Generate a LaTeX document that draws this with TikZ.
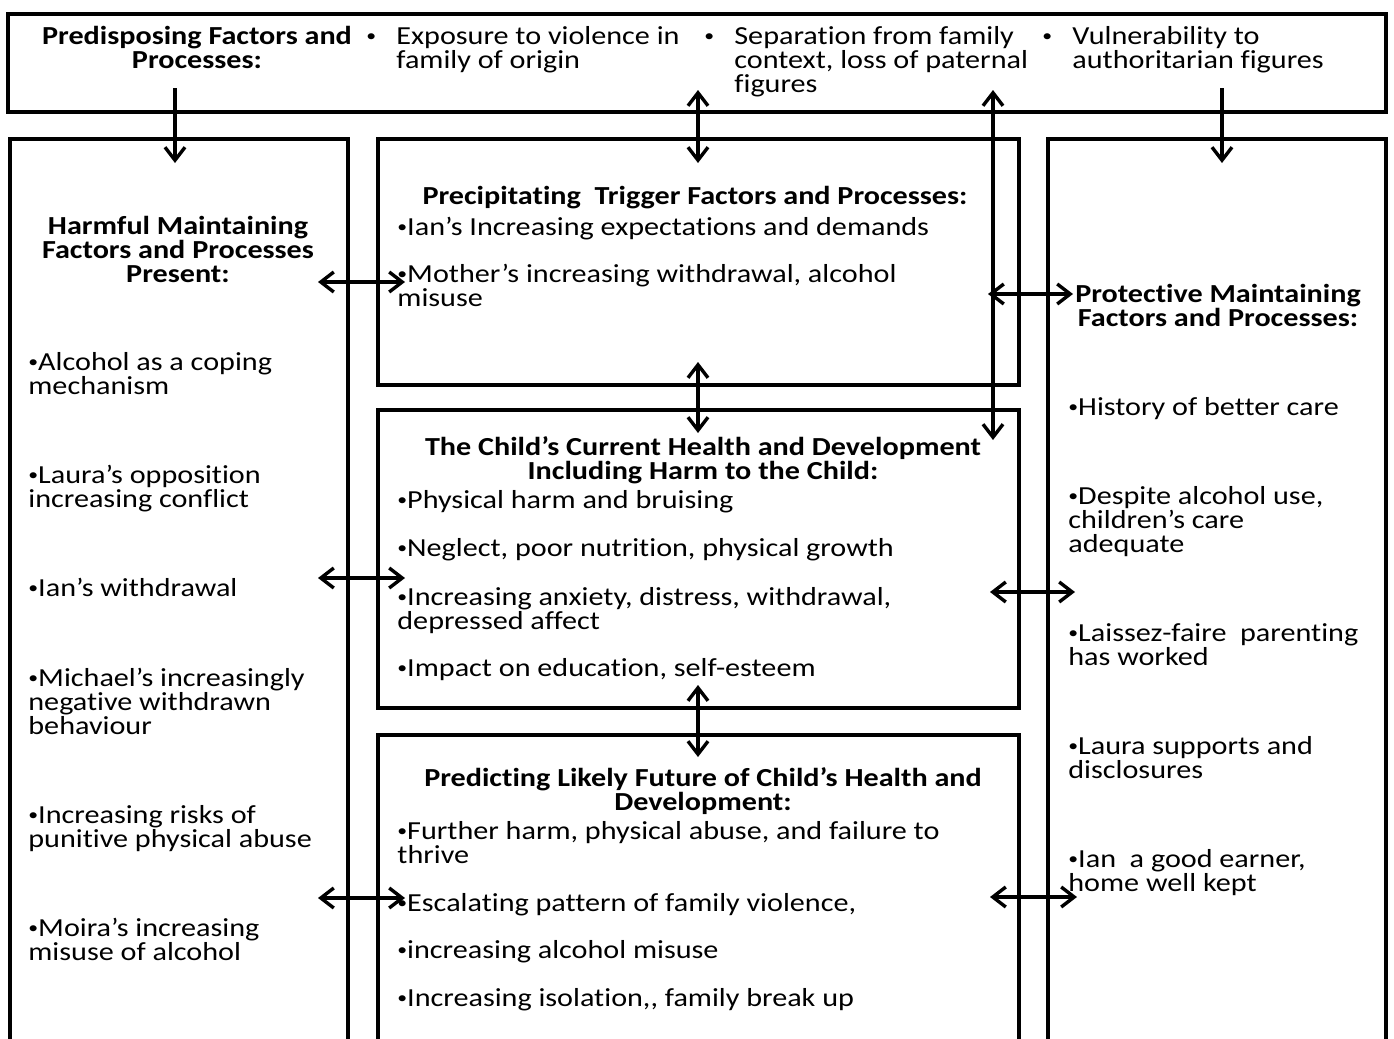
\documentclass[tikz,border=0pt]{standalone}
\usepackage{fontspec}
\setmainfont{Carlito}[Ligatures=NoCommon, FakeStretch=1.16]
\usetikzlibrary{arrows.meta,fit}

\newcommand\dotb{\raisebox{0.25ex}{\fontsize{8.5}{8.5}\selectfont •}}
\tikzset{
  box/.style={draw, line width=2pt, inner sep=0pt},
  txt/.style={inner sep=0pt, anchor=north west, align=left, yshift=-2pt, font=\fontsize{13}{12}\selectfont},
  ttl/.style={inner sep=0pt, anchor=north, align=center, yshift=-2pt, font=\fontsize{13}{12}\selectfont\bfseries},
  link/.style={line width=1.7pt, -{Straight Barb[length=6.5pt,width=10pt]}},
  both/.style={line width=1.7pt, {Straight Barb[length=6.5pt,width=10pt]}-{Straight Barb[length=6.5pt,width=10pt]}}
}

\begin{document}
\begin{tikzpicture}[x=0.5pt, y=-0.5pt]
\useasboundingbox (0,0) rectangle (1394,1039);
\clip (0,0) rectangle (1394,1039); %boxes run off the bottom edge

% boxes
\node[box, fit={(8,14) (1386,112)}]    (top)   {};
\node[box, fit={(10,139) (348,1090)}]  (harm)  {};
\node[box, fit={(378,139) (1019,385)}] (trig)  {};
\node[box, fit={(378,410) (1019,708)}] (child) {};
\node[box, fit={(378,735) (1019,1090)}] (pred) {};
\node[box, fit={(1048,139) (1386,1090)}] (prot) {};

% predisposing
\node[ttl] (pdt) at (197,22) {Predisposing Factors and\\Processes:};
\node[txt] (p1) at (366,22) {\makebox[15pt][l]{\dotb}Exposure to violence in\\\hspace*{15pt}family of origin};
\node[txt] (p2) at (704,22) {\makebox[15pt][l]{\dotb}Separation from family\\\hspace*{15pt}context, loss of paternal\\\hspace*{15pt}figures};
\node[txt] (p3) at (1042,22) {\makebox[15pt][l]{\dotb}Vulnerability to\\\hspace*{15pt}authoritarian figures};

% harmful
\node[ttl] (hmt) at (178,212) {Harmful Maintaining\\Factors and Processes\\Present:};
\node[txt] (h1) at (28,348) {\dotb Alcohol as a coping\\mechanism};
\node[txt] (h2) at (28,461) {\dotb Laura’s opposition\\increasing conflict};
\node[txt] (h3) at (28,574) {\dotb Ian’s withdrawal};
\node[txt] (h4) at (28,664) {\dotb Michael’s increasingly\\negative withdrawn\\behaviour};
\node[txt] (h5) at (28,801) {\dotb Increasing risks of\\punitive physical abuse};
\node[txt] (h6) at (28,914) {\dotb Moira’s increasing\\misuse of alcohol};

% trigger
\node[ttl] (trt) at (695,182) {Precipitating\ \ Trigger Factors and Processes:};
\node[txt] (t1) at (397,213) {\dotb Ian’s Increasing expectations and demands};
\node[txt] (t2) at (397,260) {\dotb Mother’s increasing withdrawal, alcohol\\misuse};

% current health
\node[ttl] (cht) at (703,432) {The Child’s Current Health and Development\\Including Harm to the Child:};
\node[txt] (c1) at (397,486) {\dotb Physical harm and bruising};
\node[txt] (c2) at (397,534) {\dotb Neglect, poor nutrition, physical growth};
\node[txt] (c3) at (397,583) {\dotb Increasing anxiety, distress, withdrawal,\\depressed affect};
\node[txt] (c4) at (397,654) {\dotb Impact on education, self-esteem};

% future
\node[ttl] (prt) at (703,763) {Predicting Likely Future of Child’s Health and\\Development:};
\node[txt] (f1) at (397,817) {\dotb Further harm, physical abuse, and failure to\\thrive};
\node[txt] (f2) at (397,889) {\dotb Escalating pattern of family violence,};
\node[txt] (f3) at (397,936) {\dotb increasing alcohol misuse};
\node[txt] (f4) at (397,984) {\dotb Increasing isolation,{},{} family break up};

% protective
\node[ttl] (ptt) at (1218,280) {Protective Maintaining\\Factors and Processes:};
\node[txt] (r1) at (1068,393) {\dotb History of better care};
\node[txt] (r2) at (1068,482) {\dotb Despite alcohol use,\\children’s care\\adequate};
\node[txt] (r3) at (1068,619) {\dotb Laissez-faire\ \ parenting\\has worked};
\node[txt] (r4) at (1068,732) {\dotb Laura supports and\\disclosures};
\node[txt] (r5) at (1068,845) {\dotb Ian\ \ a good earner,\\home well kept};

% arrow ends
\coordinate (a1) at (175,88);   \coordinate (a2) at (175,163);
\coordinate (a3) at (1222,88);  \coordinate (a4) at (1222,163);
\coordinate (a5) at (698,90);   \coordinate (a6) at (698,163);
\coordinate (a7) at (993,90);   \coordinate (a8) at (993,440);
\coordinate (a9) at (698,362);  \coordinate (a10) at (698,433);
\coordinate (a11) at (698,685); \coordinate (a12) at (698,757);
\coordinate (l1) at (318,282);  \coordinate (l2) at (405,282);
\coordinate (l3) at (318,578);  \coordinate (l4) at (405,578);
\coordinate (l5) at (318,898);  \coordinate (l6) at (405,898);
\coordinate (r7) at (988,294);  \coordinate (r8) at (1073,294);
\coordinate (r9) at (990,592);  \coordinate (r10) at (1075,592);
\coordinate (r11) at (990,897); \coordinate (r12) at (1077,897);

\foreach \from/\to in {a1/a2, a3/a4}
\draw [link] (\from) -- (\to);
\foreach \from/\to in {a5/a6, a7/a8, a9/a10, a11/a12, l1/l2, l3/l4, l5/l6, r7/r8, r9/r10, r11/r12}
\draw [both] (\from) -- (\to);
\end{tikzpicture}
\end{document}
